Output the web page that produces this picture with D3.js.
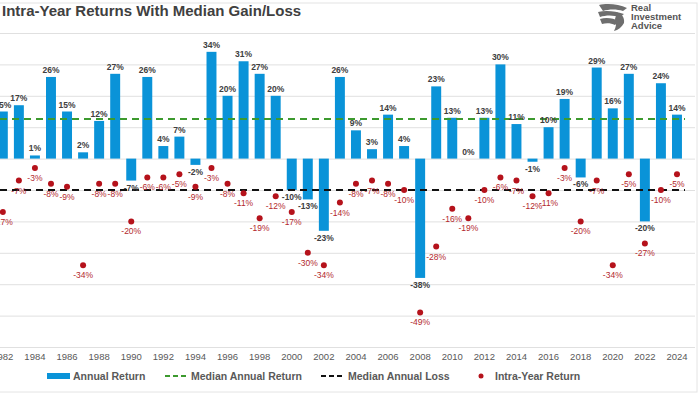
<!DOCTYPE html>
<html>
<head>
<meta charset="utf-8">
<script src="https://cdn.jsdelivr.net/npm/d3@7"></script>
<style>
  body { margin: 0; background: #fff; }
  svg { display: block; font-family: "Liberation Sans", Arial, sans-serif; }
</style>
</head>
<body>
<svg width="700" height="394"></svg>
<script>
"use strict";

// S&P 500 calendar-year return and intra-year drawdown, in %
const years = d3.range(1982, 2025);
const annualReturn = [15, 17, 1, 26, 15, 2, 12, 27, -7, 26, 4, 7, -2, 34, 20, 31, 27, 20, -10, -13, -23,
    26, 9, 3, 14, 4, -38, 23, 13, 0, 13, 30, 11, -1, 10, 19, -6, 29, 16, 27, -20, 24, 14];
const intraYear = [-17, -7, -3, -8, -9, -34, -8, -8, -20, -6, -6, -5, -9, -3, -8, -11, -19, -12, -17, -30, -34,
    -14, -8, -7, -8, -10, -49, -28, -16, -19, -10, -6, -7, -12, -11, -3, -20, -7, -34, -5, -27, -10, -5];
const medianGain = 12.6;
const medianLoss = -10;
const yTicks = [40, 30, 20, 10, 0, -10, -20, -30, -40, -50, -60];
const xTickYears = d3.range(1982, 2025, 2);

const svg = d3.select("svg");
const plotTop = 33, plotBottom = 347, plotLeft = -5.2, plotRight = 685;

const xScale = d3.scaleBand()
    .domain(years)
    .range([plotLeft, plotRight])
    .paddingInner(0.38)
    .paddingOuter(0.19);

const yScale = d3.scaleLinear()
    .domain([-60, 40])
    .range([plotBottom, plotTop]);

const cx = yr => xScale(yr) + xScale.bandwidth() / 2;

// frame
svg.append("rect")
    .attr("x", -2).attr("y", 3).attr("width", 699).attr("height", 389)
    .attr("fill", "none").attr("stroke", "#e4e4e4");

// title
svg.append("text")
    .attr("x", 2).attr("y", 16)
    .attr("font-size", 15).attr("font-weight", "bold").attr("fill", "#404040")
    .text("Intra-Year Returns With Median Gain/Loss");

// logo
const logo = svg.append("g").attr("transform", "translate(597,3)");
logo.append("path")
    .attr("d", "M2,2 C10,0 22,1 30,5 L26,8 C20,6 12,6 6,8 Z M1,9 C9,7 18,8 27,11 L23,14 C16,12 9,12 3,14 Z M3,16 C9,14 16,15 22,18 L18,22 C14,20 9,20 5,21 Z M20,9 C24,10 28,14 27,20 C25,24 21,27 17,28 C19,24 20,20 18,16 Z")
    .attr("fill", "#6e6e6e");
const logoText = logo.append("g").attr("font-size", 9.5).attr("font-weight", "bold").attr("fill", "#555");
logoText.append("text").attr("x", 34).attr("y", 8).text("Real");
logoText.append("text").attr("x", 34).attr("y", 17).text("Investment");
logoText.append("text").attr("x", 34).attr("y", 26).text("Advice");

// gridlines
svg.append("g")
    .call(d3.axisLeft(yScale).tickValues(yTicks).tickSize(-(plotRight + 10)).tickFormat(""))
    .call(g => g.select(".domain").remove())
    .call(g => g.selectAll("line").attr("stroke", "#e0e0e0").attr("stroke-width", 1));

// x axis labels
svg.append("g")
    .attr("transform", `translate(0,${plotBottom})`)
    .call(d3.axisBottom(xScale).tickValues(xTickYears).tickSize(0).tickPadding(6))
    .call(g => g.select(".domain").remove())
    .call(g => g.selectAll("text").attr("font-size", 9.5).attr("fill", "#595959")
        .attr("font-family", "Liberation Sans, Arial, sans-serif"));

// bars
svg.selectAll("rect.bar")
    .data(annualReturn)
    .join("rect")
    .attr("class", "bar")
    .attr("x", (d, i) => xScale(years[i]))
    .attr("y", d => yScale(Math.max(0, d)))
    .attr("width", xScale.bandwidth())
    .attr("height", d => Math.abs(yScale(d) - yScale(0)))
    .attr("fill", "#0a93d8");

// median lines
svg.append("line")
    .attr("x1", 0).attr("x2", plotRight)
    .attr("y1", yScale(medianGain)).attr("y2", yScale(medianGain))
    .attr("stroke", "#3c9a2e").attr("stroke-width", 2).attr("stroke-dasharray", "7,5");
svg.append("line")
    .attr("x1", 0).attr("x2", plotRight)
    .attr("y1", yScale(medianLoss)).attr("y2", yScale(medianLoss))
    .attr("stroke", "#111").attr("stroke-width", 2).attr("stroke-dasharray", "7,5");

// bar labels
svg.selectAll("text.barlab")
    .data(annualReturn)
    .join("text")
    .attr("class", "barlab")
    .attr("x", (d, i) => cx(years[i]))
    .attr("y", d => d >= 0 ? yScale(d) - 4 : yScale(d) + 10)
    .attr("text-anchor", "middle")
    .attr("font-size", 8.5).attr("font-weight", "bold").attr("fill", "#404040")
    .text(d => d + "%");

// intra-year dots
svg.selectAll("circle.dot")
    .data(intraYear)
    .join("circle")
    .attr("class", "dot")
    .attr("cx", (d, i) => cx(years[i]))
    .attr("cy", d => yScale(d))
    .attr("r", 3)
    .attr("fill", "#b5121b");

svg.selectAll("text.dotlab")
    .data(intraYear)
    .join("text")
    .attr("class", "dotlab")
    .attr("x", (d, i) => cx(years[i]))
    .attr("y", d => yScale(d) + 13)
    .attr("text-anchor", "middle")
    .attr("font-size", 8.5).attr("fill", "#b3282d")
    .text(d => d + "%");

// legend
const legend = svg.append("g").attr("font-size", 10.5).attr("font-weight", "bold");
legend.append("rect").attr("x", 47).attr("y", 373).attr("width", 23).attr("height", 6).attr("fill", "#0a93d8");
legend.append("text").attr("x", 73).attr("y", 380).attr("fill", "#595959").text("Annual Return");
legend.append("line").attr("x1", 165).attr("x2", 186).attr("y1", 376).attr("y2", 376)
    .attr("stroke", "#3c9a2e").attr("stroke-width", 2).attr("stroke-dasharray", "5,3");
legend.append("text").attr("x", 191).attr("y", 380).attr("fill", "#595959").text("Median Annual Return");
legend.append("line").attr("x1", 321).attr("x2", 342).attr("y1", 376).attr("y2", 376)
    .attr("stroke", "#111").attr("stroke-width", 2).attr("stroke-dasharray", "5,3");
legend.append("text").attr("x", 348).attr("y", 380).attr("fill", "#595959").text("Median Annual Loss");
legend.append("circle").attr("cx", 481).attr("cy", 376).attr("r", 2.5).attr("fill", "#b5121b");
legend.append("text").attr("x", 495).attr("y", 380).attr("fill", "#595959").text("Intra-Year Return");
</script>
</body>
</html>
